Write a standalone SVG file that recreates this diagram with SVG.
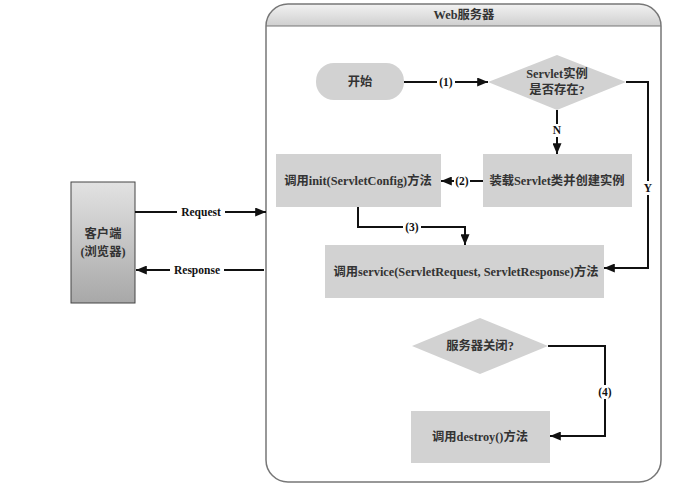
<svg xmlns="http://www.w3.org/2000/svg" width="692" height="491" viewBox="0 0 692 491">
<defs>
<marker id="ah" viewBox="0 0 12 10" refX="12" refY="5" markerWidth="12" markerHeight="9" markerUnits="userSpaceOnUse" orient="auto">
<path d="M0,0 L12,5 L0,10 z" fill="#111"/>
</marker>
<linearGradient id="cg" x1="0" y1="0" x2="0" y2="1">
<stop offset="0" stop-color="#e2e2e2"/>
<stop offset="1" stop-color="#a8a8a8"/>
</linearGradient>
<linearGradient id="hg" x1="0" y1="0" x2="0" y2="1">
<stop offset="0" stop-color="#f2f2f2"/>
<stop offset="1" stop-color="#cfcfcf"/>
</linearGradient>
<clipPath id="cc"><rect x="266" y="4" width="395" height="478" rx="22"/></clipPath>
</defs>
<style>
text{font-family:"Liberation Serif","Noto Sans CJK SC",serif;font-weight:bold;font-size:12.3px;fill:#333;text-anchor:middle;dominant-baseline:central}
.box{fill:#d2d2d2;stroke:none}
.ln{fill:none;stroke:#111;stroke-width:2}
.lbl{fill:#111;font-size:11.5px}
</style>
<rect width="692" height="491" fill="#fff"/>
<g id="web-server">
<rect x="266" y="4" width="395" height="22" fill="url(#hg)" clip-path="url(#cc)"/>
<line x1="266" y1="26" x2="661" y2="26" stroke="#777" stroke-width="1"/>
<rect x="266" y="4" width="395" height="478" rx="22" fill="none" stroke="#777" stroke-width="1.5"/>
<text x="464" y="15">Web服务器</text>
</g>
<g id="client">
<rect x="71" y="182" width="64" height="121" fill="url(#cg)" stroke="#444" stroke-width="1"/>
<text x="103" y="234">客户端</text>
<text x="103" y="252">(浏览器)</text>
</g>
<g id="start">
<rect x="316" y="63" width="88" height="37" rx="18" class="box"/>
<text x="360" y="82">开始</text>
</g>
<g id="decision-exists">
<polygon points="488,82 557,55 626,82 557,110" class="box"/>
<text x="557" y="74">Servlet实例</text>
<text x="557" y="90">是否存在?</text>
</g>
<g id="load">
<rect x="483" y="154" width="149" height="53" class="box"/>
<text x="557" y="181">装载Servlet类并创建实例</text>
</g>
<g id="init">
<rect x="276" y="154" width="165" height="53" class="box"/>
<text x="358" y="181">调用init(ServletConfig)方法</text>
</g>
<g id="service">
<rect x="325" y="245" width="279" height="53" class="box"/>
<text x="466" y="272">调用service(ServletRequest, ServletResponse)方法</text>
</g>
<g id="decision-close">
<polygon points="412,346 480,318 548,346 480,374" class="box"/>
<text x="480" y="346">服务器关闭?</text>
</g>
<g id="destroy">
<rect x="411" y="411" width="139" height="52" class="box"/>
<text x="480" y="437">调用destroy()方法</text>
</g>
<g id="connectors">
<path class="ln" d="M404,82 H488" marker-end="url(#ah)"/>
<rect x="437" y="75" width="18" height="14" fill="#fff"/>
<text class="lbl" x="446" y="82">(1)</text>
<path class="ln" d="M557,110 V154" marker-end="url(#ah)"/>
<rect x="551" y="124" width="12" height="13" fill="#fff"/>
<text class="lbl" x="557" y="130">N</text>
<path class="ln" d="M626,82 H648 V268 H604" marker-end="url(#ah)"/>
<rect x="642" y="181" width="12" height="14" fill="#fff"/>
<text class="lbl" x="648" y="188">Y</text>
<path class="ln" d="M483,181 H441" marker-end="url(#ah)"/>
<rect x="454" y="174" width="16" height="14" fill="#fff"/>
<text class="lbl" x="462" y="181">(2)</text>
<path class="ln" d="M358,207 V227 H465 V245" marker-end="url(#ah)"/>
<rect x="403" y="220" width="18" height="14" fill="#fff"/>
<text class="lbl" x="412" y="227">(3)</text>
<path class="ln" d="M548,346 H605 V436 H550" marker-end="url(#ah)"/>
<rect x="597" y="385" width="16" height="14" fill="#fff"/>
<text class="lbl" x="605" y="392">(4)</text>
<path class="ln" d="M135,212 H266" marker-end="url(#ah)"/>
<rect x="177" y="205" width="48" height="14" fill="#fff"/>
<text class="lbl" x="201" y="212">Request</text>
<path class="ln" d="M264,270 H136" marker-end="url(#ah)"/>
<rect x="170" y="263" width="54" height="14" fill="#fff"/>
<text class="lbl" x="197" y="270">Response</text>
</g>
</svg>
